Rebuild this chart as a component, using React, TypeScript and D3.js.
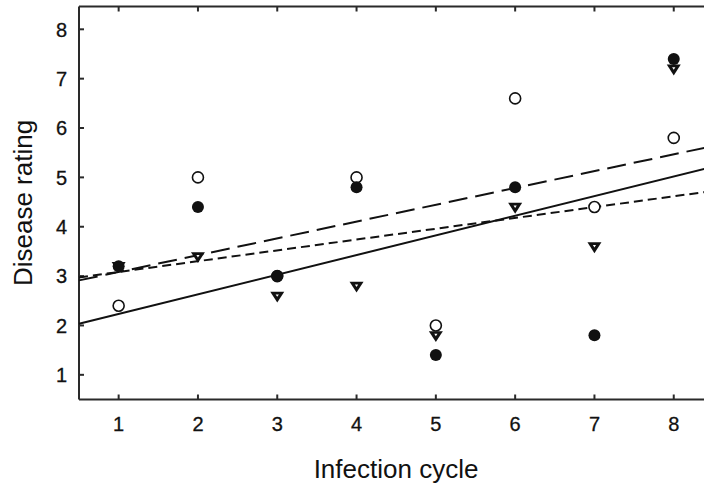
import React from "react";
import * as d3 from "d3";

const cycles = [1, 2, 3, 4, 5, 6, 7, 8];
const filledCircle = [3.2, 4.4, 3.0, 4.8, 1.4, 4.8, 1.8, 7.4];
const openCircle = [2.4, 5.0, 3.0, 5.0, 2.0, 6.6, 4.4, 5.8];
const triangle = [3.2, 3.4, 2.6, 2.8, 1.8, 4.4, 3.6, 7.2];
const xTicks = [1, 2, 3, 4, 5, 6, 7, 8];
const yTicks = [1, 2, 3, 4, 5, 6, 7, 8];
const xLabel = "Infection cycle";
const yLabel = "Disease rating";

const W = 704;
const H = 486;
const left = 79;
const top = 6.5;
const bottom = 399.5;

function fit(xs: number[], ys: number[]) {
  const mx = d3.mean(xs) as number;
  const my = d3.mean(ys) as number;
  let sxy = 0, sxx = 0;
  xs.forEach((x, i) => { sxy += (x - mx) * (ys[i] - my); sxx += (x - mx) * (x - mx); });
  const b = sxy / sxx;
  return (x: number) => my + b * (x - mx);
}

export default function App() {
  const x = d3.scaleLinear().domain([0.5, 8.5]).range([left, left + 8 * 79.3]);
  const y = d3.scaleLinear().domain([0.5, 8]).range([bottom, 29.3]);
  const ink = "#111";
  const axisCol = "#2a2a2a";
  const font = "'Liberation Sans', Arial, sans-serif";

  const lines = [
    { f: fit(cycles, triangle), dash: "none" },
    { f: fit(cycles, openCircle), dash: "19 8" },
    { f: fit(cycles, filledCircle), dash: "9 5" },
  ];
  const xEnd = x.invert(W + 5);

  const tri = (cx: number, cy: number, s: number) =>
    `M${cx - s},${cy - s * 0.6} L${cx + s},${cy - s * 0.6} L${cx},${cy + s * 0.95} Z`;

  return (
    <svg width={W} height={H} style={{ position: "absolute", left: 0, top: 0, background: "#fff" }}>
      <rect x={0} y={0} width={W} height={H} fill="#fff" />
      {/* axes */}
      <line x1={left} x2={W} y1={top} y2={top} stroke={axisCol} strokeWidth={2} />
      <line x1={left} x2={W} y1={bottom} y2={bottom} stroke={axisCol} strokeWidth={2} />
      <line x1={left} x2={left} y1={top} y2={bottom} stroke={axisCol} strokeWidth={2} />
      {xTicks.map((t) => (
        <g key={"xt" + t}>
          <line x1={x(t)} x2={x(t)} y1={bottom} y2={bottom - 5} stroke={axisCol} strokeWidth={2} />
          <line x1={x(t)} x2={x(t)} y1={top} y2={top + 5} stroke={axisCol} strokeWidth={2} />
          <text x={x(t)} y={431} textAnchor="middle" fontFamily={font} fontSize={20} fill={ink} stroke={ink} strokeWidth={0.3}>{t}</text>
        </g>
      ))}
      {yTicks.map((t) => (
        <g key={"yt" + t}>
          <line x1={left} x2={left + 5} y1={y(t)} y2={y(t)} stroke={axisCol} strokeWidth={2} />
          <text x={67} y={y(t)} dy="0.36em" textAnchor="end" fontFamily={font} fontSize={20} fill={ink} stroke={ink} strokeWidth={0.3}>{t}</text>
        </g>
      ))}
      <text x={396} y={478} textAnchor="middle" fontFamily={font} fontSize={26} fill={ink}>{xLabel}</text>
      <text transform={`translate(32,203) rotate(-90)`} textAnchor="middle" fontFamily={font} fontSize={26} fill={ink}>{yLabel}</text>

      {/* regression lines */}
      {lines.map((l, i) => (
        <path
          key={"l" + i}
          d={d3.line<number>().x((d) => x(d)).y((d) => y(l.f(d)))([0.5, xEnd]) as string}
          fill="none"
          stroke={ink}
          strokeWidth={2}
          strokeDasharray={l.dash}
        />
      ))}

      {/* markers */}
      {cycles.map((c, i) => (
        <g key={"m" + c}>
          <circle cx={x(c)} cy={y(openCircle[i])} r={5.5} fill="#fff" stroke={ink} strokeWidth={1.6} />
          <path d={tri(x(c), y(triangle[i]), 7)} fill={ink} />
          <path d={tri(x(c), y(triangle[i]) - 0.5, 1.6)} fill="#fff" />
          <circle cx={x(c)} cy={y(filledCircle[i])} r={6} fill={ink} />
        </g>
      ))}
    </svg>
  );
}
